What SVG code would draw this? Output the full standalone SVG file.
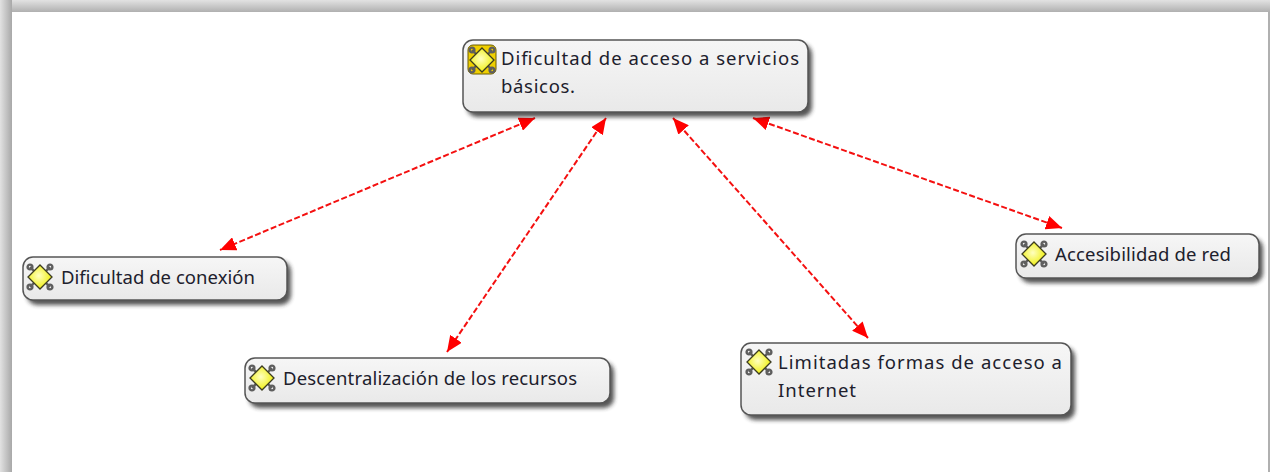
<svg xmlns="http://www.w3.org/2000/svg" width="1270" height="472" viewBox="0 0 1270 472">
<style>
.box{fill:url(#boxfill);stroke:#555;stroke-width:1.5}
.shadow{fill:#2a2a2a;filter:url(#blur);opacity:.8}
.lbl{font-family:"Noto Sans","DejaVu Sans",sans-serif;font-size:18.5px;fill:#20202c}
.link{stroke:#f41010;stroke-width:2;stroke-dasharray:6 2.5;fill:none;marker-start:url(#arrow);marker-end:url(#arrow)}
</style>
<defs>
<linearGradient id="boxfill" x1="0" y1="0" x2="0" y2="1"><stop offset="0" stop-color="#f6f6f6"/><stop offset="1" stop-color="#e9e9e9"/></linearGradient>
<linearGradient id="top" x1="0" y1="0" x2="0" y2="1"><stop offset="0" stop-color="#e2e2e2"/><stop offset="1" stop-color="#b0b0b0"/></linearGradient>
<linearGradient id="left" x1="0" y1="0" x2="1" y2="0"><stop offset="0" stop-color="#e2e2e2"/><stop offset="1" stop-color="#a8a8a8"/></linearGradient>
<radialGradient id="gem" cx=".45" cy=".45" r=".6"><stop offset="0" stop-color="#ffffc0"/><stop offset="1" stop-color="#eeee00"/></radialGradient>
<filter id="blur" x="-10%" y="-20%" width="120%" height="140%"><feGaussianBlur stdDeviation="2"/></filter>
<marker id="arrow" viewBox="0 0 16 14" refX="16" refY="7" markerUnits="userSpaceOnUse" markerWidth="16" markerHeight="14" orient="auto-start-reverse"><path d="M0 0L16 7L0 14z" fill="#f00"/></marker>
<g id="icon">
<g fill="none" stroke="#5e5e5e" stroke-width="2.4"><path d="M-10-10L10 10M-10 10L10-10"/><circle cx="-10" cy="-10" r="2.4"/><circle cx="10" cy="-10" r="2.4"/><circle cx="-10" cy="10" r="2.4"/><circle cx="10" cy="10" r="2.4"/></g>
<path d="M0-12L12 0L0 12L-12 0z" fill="url(#gem)" stroke="#3c3c20" stroke-width="1.3"/>
</g>
</defs>
<rect width="1270" height="472" fill="#fff"/>
<g id="frame">
<rect x="0" y="0" width="1270" height="12" fill="url(#top)"/>
<rect x="0" y="0" width="12" height="472" fill="url(#left)"/>
<rect x="1268" y="12" width="2" height="460" fill="#b0b0b0"/>
</g>
<g id="connectors">
<line class="link" x1="535" y1="118" x2="220" y2="250"/>
<line class="link" x1="606" y1="118" x2="447" y2="352"/>
<line class="link" x1="673" y1="118" x2="868" y2="338"/>
<line class="link" x1="753" y1="118" x2="1062" y2="228"/>
</g>
<g id="node-main">
<rect class="shadow" x="467" y="44" width="345" height="73" rx="10"/>
<rect class="box" x="463" y="40" width="345" height="72" rx="10"/>
<rect x="468" y="45" width="28" height="29" rx="5" fill="#efcf00" stroke="#6a5a00"/>
<use href="#icon" x="482" y="60"/>
<text class="lbl" x="501" y="65" textLength="298">Dificultad de acceso a servicios</text>
<text class="lbl" x="501" y="93" textLength="74">básicos.</text>
</g>
<g id="node-conexion">
<rect class="shadow" x="27" y="261" width="264" height="44" rx="10"/>
<rect class="box" x="23" y="257" width="264" height="43" rx="10"/>
<use href="#icon" x="40" y="277"/>
<text class="lbl" x="61" y="284" textLength="194">Dificultad de conexión</text>
</g>
<g id="node-descentralizacion">
<rect class="shadow" x="249" y="362" width="365" height="46" rx="10"/>
<rect class="box" x="245" y="358" width="365" height="45" rx="10"/>
<use href="#icon" x="262" y="378"/>
<text class="lbl" x="283" y="385" textLength="294">Descentralización de los recursos</text>
</g>
<g id="node-limitadas">
<rect class="shadow" x="745" y="347" width="330" height="73" rx="10"/>
<rect class="box" x="741" y="343" width="330" height="72" rx="10"/>
<use href="#icon" x="759" y="362"/>
<text class="lbl" x="778" y="369" textLength="284">Limitadas formas de acceso a</text>
<text class="lbl" x="778" y="397" textLength="78">Internet</text>
</g>
<g id="node-accesibilidad">
<rect class="shadow" x="1020" y="238" width="243" height="45" rx="10"/>
<rect class="box" x="1016" y="234" width="243" height="44" rx="10"/>
<use href="#icon" x="1034" y="254"/>
<text class="lbl" x="1055" y="261" textLength="176">Accesibilidad de red</text>
</g>
</svg>
